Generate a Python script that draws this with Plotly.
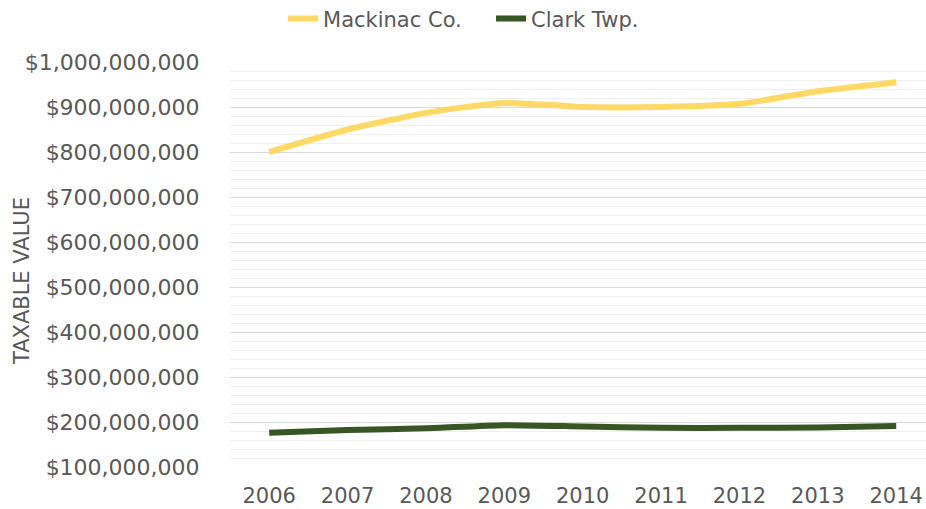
import plotly.graph_objects as go

years = [2006, 2007, 2008, 2009, 2010, 2011, 2012, 2013, 2014]
mackinac = [800e6, 850e6, 887e6, 909e6, 900e6, 900e6, 907e6, 935e6, 955e6]
clark = [176e6, 182e6, 186e6, 193e6, 190e6, 187e6, 187e6, 188e6, 191e6]
tick_vals = [100e6, 200e6, 300e6, 400e6, 500e6, 600e6, 700e6, 800e6, 900e6, 1000e6]
tick_text = ["$" + f"{int(v):,}" for v in tick_vals]

FONT = "DejaVu Sans"
GREY = "#595959"

fig = go.Figure()
fig.add_trace(go.Scatter(x=years, y=mackinac, mode="lines", name="Mackinac Co.",
                         line=dict(color="#FFD966", width=6, shape="spline", smoothing=0.6)))
fig.add_trace(go.Scatter(x=years, y=clark, mode="lines", name="Clark Twp.",
                         line=dict(color="#375623", width=6, shape="spline", smoothing=0.6)))

fig.update_layout(
    width=926, height=509,
    margin=dict(l=230, r=0, t=62, b=42, autoexpand=False),
    paper_bgcolor="white", plot_bgcolor="white",
    font=dict(family=FONT, size=21, color=GREY),
    showlegend=True,
    legend=dict(orientation="h", xref="paper", x=0.0762, xanchor="left",
                yref="container", y=0.963, yanchor="middle",
                font=dict(family=FONT, size=21, color=GREY),
                entrywidth=163, entrywidthmode="pixels",
                tracegroupgap=0, bgcolor="rgba(0,0,0,0)"),
    xaxis=dict(range=[2005.5, 2014.38], tickmode="array", tickvals=years,
               ticktext=[str(y) for y in years], showgrid=False, zeroline=False,
               showline=False, ticks="outside", ticklen=10, tickcolor="rgba(0,0,0,0)",
               tickfont=dict(size=21, color=GREY), automargin=False),
    yaxis=dict(range=[100e6, 1000e6], tickmode="array", tickvals=tick_vals,
               ticktext=tick_text, showgrid=True, gridcolor="#D9D9D9", gridwidth=1.3,
               zeroline=False, showline=False, ticks="outside", ticklen=25,
               tickcolor="rgba(0,0,0,0)", automargin=False,
               tickfont=dict(size=22, color=GREY),
               minor=dict(dtick=20e6, tick0=0, showgrid=True, gridcolor="#F0F0F0",
                          gridwidth=1)),
    annotations=[dict(text="TAXABLE VALUE", textangle=-90, xref="paper", yref="paper",
                      x=-0.2989, y=0.459, xanchor="center", yanchor="middle",
                      showarrow=False, font=dict(family=FONT, size=21, color=GREY))],
)

fig.write_html("out.html", config={"displayModeBar": False},
               post_script="document.body.style.margin='0';document.body.style.padding='0';document.body.style.overflow='hidden';")
